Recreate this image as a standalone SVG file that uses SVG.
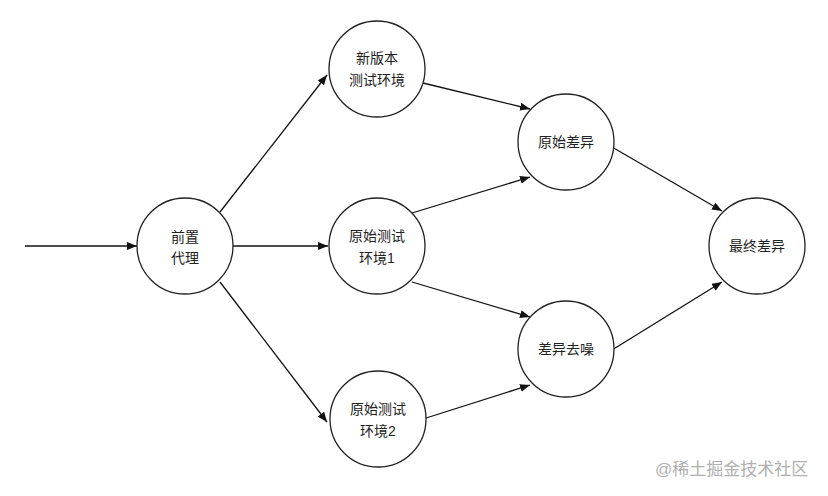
<svg xmlns="http://www.w3.org/2000/svg" width="828" height="496" viewBox="0 0 828 496">
<style>
.n{fill:#fff;stroke:#222;stroke-width:1.3}
.t{font-family:"Liberation Sans","Noto Sans CJK SC",sans-serif;font-size:14px;fill:#222;text-anchor:middle}
.e{stroke:#111;stroke-width:1.3;fill:none;marker-end:url(#a)}
.w{font-family:"Liberation Sans","Noto Sans CJK SC",sans-serif;font-size:17px;fill:#b0b0b0}
</style>
<defs>
<marker id="a" markerWidth="10" markerHeight="8" refX="10" refY="4" orient="auto" markerUnits="userSpaceOnUse">
<path d="M0,0 L10,4 L0,8 Z" fill="#111"/>
</marker>
</defs>
<rect width="828" height="496" fill="#fff"/>
<g id="edges">
<line class="e" x1="25" y1="246" x2="137" y2="246"/>
<line class="e" x1="220" y1="212" x2="327" y2="75"/>
<line class="e" x1="233" y1="246" x2="328" y2="246"/>
<line class="e" x1="220" y1="282" x2="327" y2="422"/>
<line class="e" x1="423" y1="83" x2="530" y2="109"/>
<line class="e" x1="412" y1="213" x2="530" y2="177"/>
<line class="e" x1="412" y1="282" x2="530" y2="317"/>
<line class="e" x1="423" y1="419" x2="530" y2="385"/>
<line class="e" x1="612" y1="147" x2="722" y2="211"/>
<line class="e" x1="612" y1="350" x2="722" y2="282"/>
</g>
<g id="n1"><circle class="n" cx="185" cy="246" r="48"/><text class="t" x="185" y="242">前置</text><text class="t" x="185" y="263">代理</text></g>
<g id="n2"><circle class="n" cx="377" cy="69" r="48"/><text class="t" x="377" y="63">新版本</text><text class="t" x="377" y="85">测试环境</text></g>
<g id="n3"><circle class="n" cx="377" cy="246" r="48"/><text class="t" x="377" y="241">原始测试</text><text class="t" x="377" y="263">环境1</text></g>
<g id="n4"><circle class="n" cx="378" cy="419" r="48"/><text class="t" x="378" y="414">原始测试</text><text class="t" x="378" y="436">环境2</text></g>
<g id="n5"><circle class="n" cx="566" cy="142" r="48"/><text class="t" x="566" y="147">原始差异</text></g>
<g id="n6"><circle class="n" cx="566" cy="349" r="48"/><text class="t" x="566" y="354">差异去噪</text></g>
<g id="n7"><circle class="n" cx="757" cy="246" r="48"/><text class="t" x="757" y="251">最终差异</text></g>
<text class="w" x="655" y="475">@稀土掘金技术社区</text>
</svg>
